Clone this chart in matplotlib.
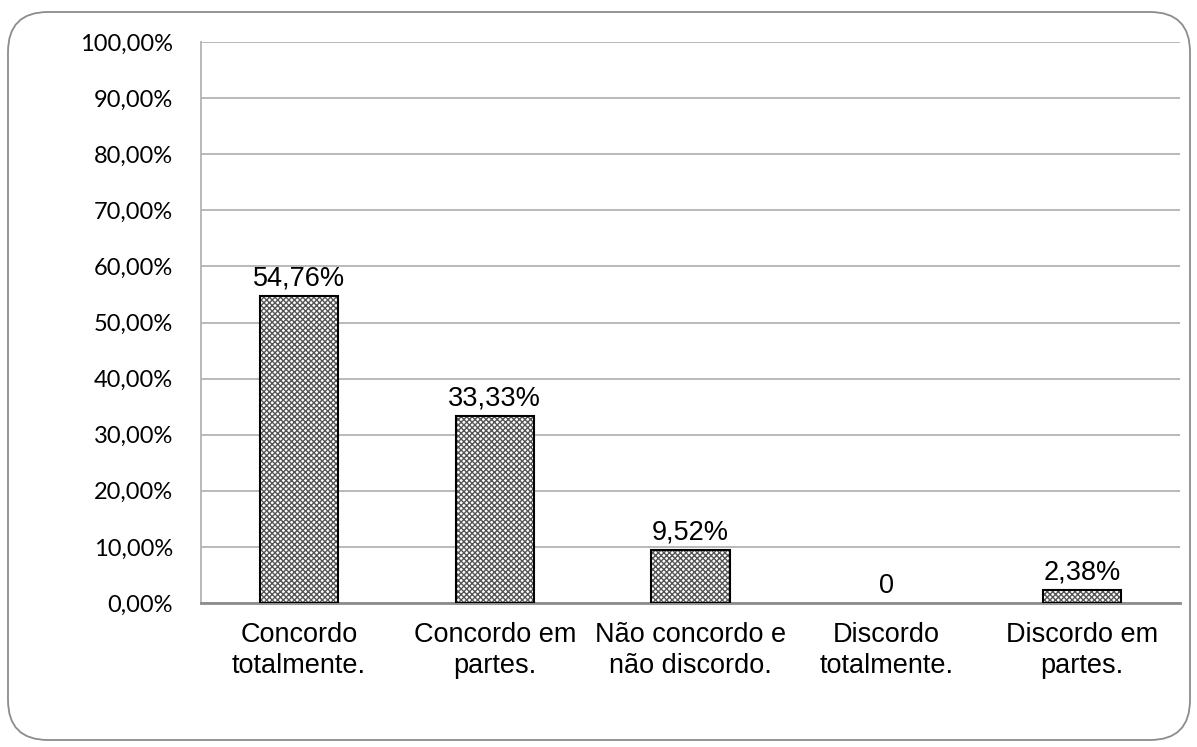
import matplotlib.pyplot as plt
from matplotlib.patches import FancyBboxPatch

categorias = ["Concordo\ntotalmente.", "Concordo em\npartes.", "Não concordo e\nnão discordo.",
              "Discordo\ntotalmente.", "Discordo em\npartes."]
valores = [54.76, 33.33, 9.52, 0, 2.38]
rotulos = ["54,76%", "33,33%", "9,52%", "0", "2,38%"]
ticks = [0, 10, 20, 30, 40, 50, 60, 70, 80, 90, 100]
tick_labels = ["%d,00%%" % t for t in ticks]

fig = plt.figure(figsize=(11.97, 7.47), dpi=100)
# moldura arredondada (em polegadas)
moldura = FancyBboxPatch((0.08, 0.07), 11.82, 7.28,
                         boxstyle="round,pad=0,rounding_size=0.4",
                         transform=fig.dpi_scale_trans, facecolor="none",
                         edgecolor="#8c8c8c", linewidth=1.3, zorder=-1)
fig.patches.append(moldura)
ax = fig.add_axes([201 / 1197, 1 - 603 / 747, 979 / 1197, 561 / 747])
ax.patch.set_alpha(0)

x = range(len(categorias))
bordas = ["black" if v > 0 else "none" for v in valores]
ax.bar(x, valores, width=0.4, color="white", edgecolor="#555555", hatch="xxxxxx",
       linewidth=0, zorder=3)
ax.bar(x, valores, width=0.4, fill=False, edgecolor=bordas, linewidth=1.5, zorder=4)

for i, v in enumerate(valores):
    ax.annotate(rotulos[i], (i, v), xytext=(0, 7.5), textcoords="offset points",
                ha="center", va="baseline", fontsize=19.5,
                family="Liberation Sans", zorder=5)

ax.set_xlim(-0.5, 4.5)
ax.set_ylim(0, 100)
ax.set_yticks(ticks)
ax.set_yticklabels(tick_labels, fontsize=17, family="Lato")
ax.set_xticks(list(x))
ax.set_xticklabels(categorias, fontsize=19.5, family="Liberation Sans", linespacing=1.25)
ax.tick_params(axis="both", length=0)
ax.tick_params(axis="y", pad=20)
ax.tick_params(axis="x", pad=14)
ax.grid(axis="y", color="#b3b3b3", linewidth=1.3, zorder=0)
for s in ["top", "right"]:
    ax.spines[s].set_visible(False)
ax.spines["left"].set_color("#b3b3b3")
ax.spines["left"].set_linewidth(1.3)
ax.spines["bottom"].set_color("#8c8c8c")
ax.spines["bottom"].set_linewidth(2)

fig.savefig("out.png", dpi=100)
